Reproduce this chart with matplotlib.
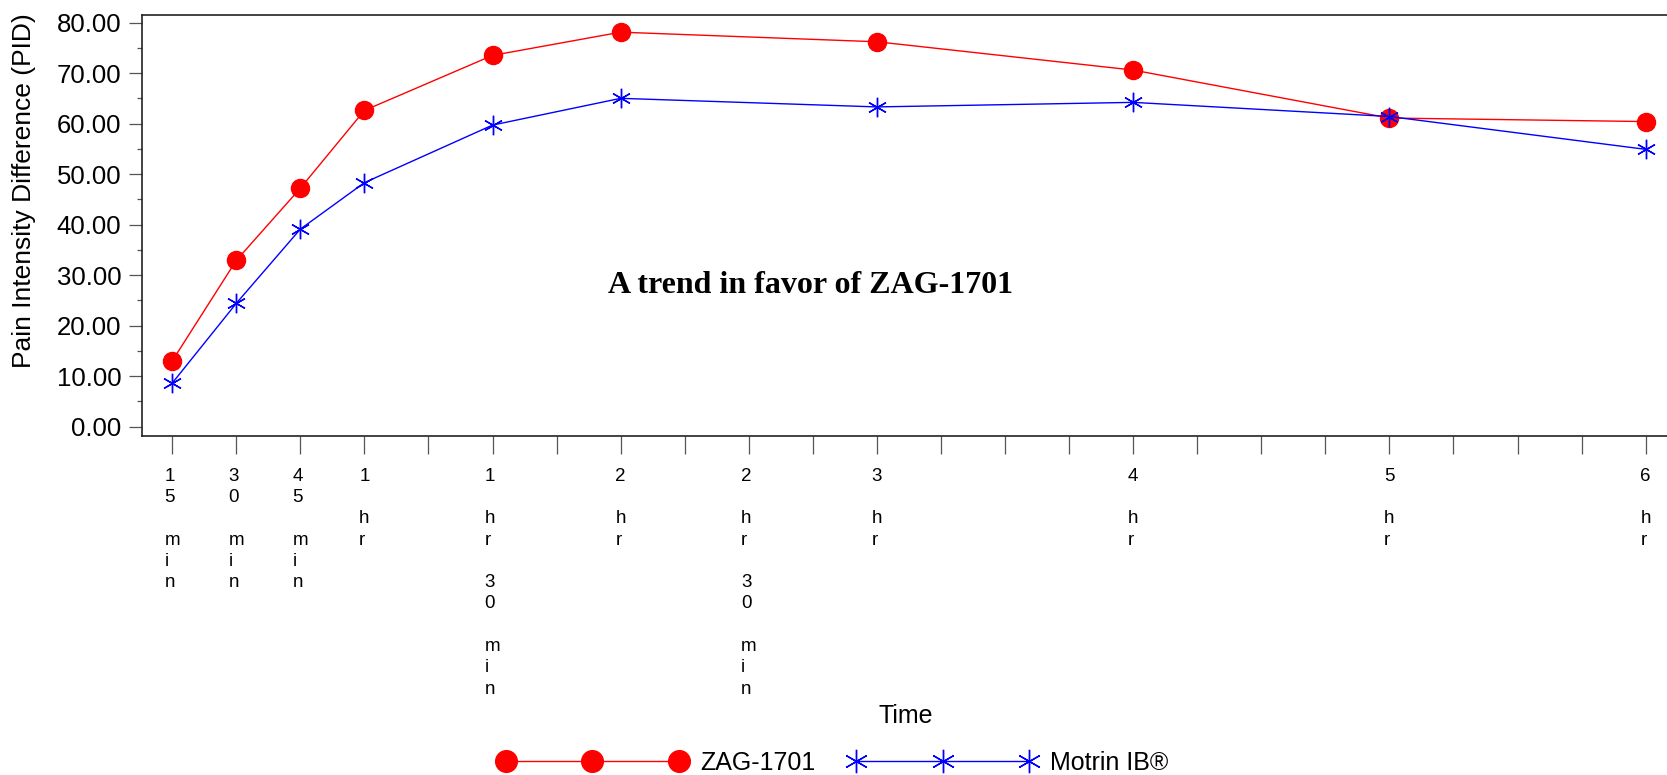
import matplotlib
matplotlib.use("Agg")
import matplotlib.pyplot as plt
from matplotlib.ticker import MultipleLocator, FormatStrFormatter

# time after dose, in minutes
times = [15, 30, 45, 60, 90, 120, 180, 240, 300, 360]
zag = [13.0, 32.9, 47.2, 62.6, 73.5, 78.1, 76.2, 70.6, 61.1, 60.4]
motrin = [8.6, 24.4, 39.1, 48.3, 59.7, 65.0, 63.3, 64.2, 61.4, 54.9]

tick_pos = list(range(15, 361, 15))
tick_names = {15: "15 min", 30: "30 min", 45: "45 min", 60: "1 hr",
              90: "1 hr 30 min", 120: "2 hr", 150: "2 hr 30 min",
              180: "3 hr", 240: "4 hr", 300: "5 hr", 360: "6 hr"}

plt.rcParams['font.family'] = ['Liberation Sans', 'DejaVu Sans']

W, H = 1667, 775
fig = plt.figure(figsize=(W / 100, H / 100), dpi=100)
ax = fig.add_axes([142.3 / W, 1 - 435.7 / H, 1 - 142.3 / W, (435.7 - 15) / H])

ax.plot(times, zag, color='#ff0000', lw=1.0, marker='o', markersize=13,
        markeredgecolor='#ff0000', markerfacecolor='#ff0000', label='ZAG-1701')
ax.plot(times, motrin, color='#0000ff', lw=1.0, marker=(6, 2, 0), markersize=14,
        markeredgewidth=1.0, markeredgecolor='#0000ff', label='Motrin IB®')

ax.set_xlim(8, 365)
ax.set_ylim(-1.8, 81.5)

ax.yaxis.set_major_locator(MultipleLocator(10))
ax.yaxis.set_minor_locator(MultipleLocator(5))
ax.yaxis.set_major_formatter(FormatStrFormatter('%.2f'))

# one character per line, as in the original
ax.set_xticks(tick_pos)
ax.set_xticklabels(["\n".join(tick_names.get(t, "")) for t in tick_pos],
                   fontsize=13.5, linespacing=1.33, ha='center', va='top',
                   multialignment='left')

ax.tick_params(axis='x', which='major', direction='out', length=13, width=0.9,
               color='#555555', pad=10)
ax.tick_params(axis='y', which='major', direction='out', length=9.6, width=0.9,
               color='#555555', pad=5.5, labelsize=18.5)
ax.tick_params(axis='y', which='minor', direction='out', length=3.6, width=0.9,
               color='#555555')

ax.spines['right'].set_visible(False)
for s in ['left', 'top', 'bottom']:
    ax.spines[s].set_linewidth(1.2)
    ax.spines[s].set_color('#222222')

ax.text(164.5, 26.5, "A trend in favor of ZAG-1701", ha='center', va='baseline',
        fontsize=23, fontweight='bold', family=['Liberation Serif', 'DejaVu Serif'])

fig.text(24 / W, 1 - 191 / H, "Pain Intensity Difference (PID)", rotation=90,
         ha='center', va='center', fontsize=19)
fig.text(906 / W, 1 - 716 / H, "Time", ha='center', va='center', fontsize=18)

fig.legend(loc='center', bbox_to_anchor=(0.5, 12 / H), ncol=2, frameon=False,
           numpoints=3, markerscale=1.2, handlelength=7.5, handletextpad=0.55,
           columnspacing=1.35, fontsize=18)

fig.savefig("out.png", dpi=100)
